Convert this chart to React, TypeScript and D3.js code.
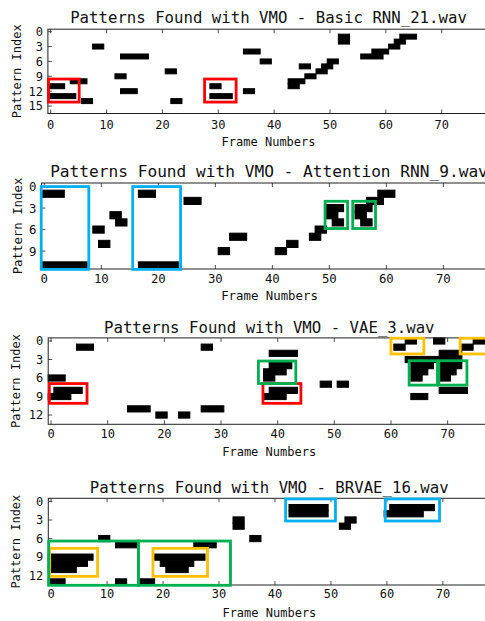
import React from 'react';
import * as d3 from 'd3';

// ---------- data ----------
const xTickValues = [0, 10, 20, 30, 40, 50, 60, 70];
const xAxisLabel = 'Frame Numbers';
const yAxisLabel = 'Pattern Index';

// bars: [pattern row, first frame, last frame]
// boxes: [colour kind, frame from, frame to, row from, row to]

const basicRnnTitle = 'Patterns Found with VMO - Basic RNN_21.wav';
const basicRnnRows = 17;
const basicRnnFrames = 79;
const basicRnnYTicks = [0, 3, 6, 9, 12, 15];
const basicRnnBars: [number, number, number][] = [
  [3, 8, 9], [5, 13, 17], [9, 12, 13], [8, 21, 22], [10, 4, 6], [11, 0, 2],
  [12, 13, 15], [13, 0, 4], [14, 6, 7], [14, 22, 23], [11, 29, 30], [13, 29, 32],
  [12, 35, 36], [4, 35, 37], [6, 38, 39], [1, 52, 53], [2, 52, 53],
  [1, 63, 65], [2, 62, 63], [3, 61, 62], [4, 58, 60], [5, 56, 59],
  [6, 50, 51], [7, 45, 46], [7, 49, 50], [8, 48, 49], [9, 46, 47], [10, 43, 45], [11, 43, 44],
];
const basicRnnBoxes: [string, number, number, number, number][] = [
  ['red', -0.4, 5.1, 9.55, 14.2],
  ['red', 27.55, 33.2, 9.55, 14.2],
];

const attentionTitle = 'Patterns Found with VMO - Attention RNN_9.wav';
const attentionRows = 12;
const attentionFrames = 80;
const attentionYTicks = [0, 3, 6, 9];
const attentionBars: [number, number, number][] = [
  [1, 0, 3], [11, 0, 7], [1, 17, 19], [11, 17, 23], [2, 25, 27], [4, 12, 13], [5, 13, 14],
  [6, 9, 10], [8, 10, 11], [9, 31, 32], [7, 33, 35], [9, 41, 42], [8, 43, 44], [7, 47, 48],
  [6, 48, 49], [3, 50, 52], [4, 50, 51], [5, 51, 52], [3, 55, 57], [4, 55, 56], [5, 56, 57],
  [2, 57, 59], [1, 59, 61],
];
const attentionBoxes: [string, number, number, number, number][] = [
  ['blue', -0.55, 7.8, 0, 11.55],
  ['blue', 15.5, 23.9, 0, 11.55],
  ['green', 49.25, 53.2, 2.05, 5.85],
  ['green', 54.1, 58.1, 2.05, 5.85],
];

const vaeTitle = 'Patterns Found with VMO - VAE_3.wav';
const vaeRows = 14;
const vaeFrames = 78;
const vaeYTicks = [0, 3, 6, 9, 12];
const vaeBars: [number, number, number][] = [
  [1, 5, 7], [1, 27, 28], [6, 0, 2], [8, 1, 5], [9, 0, 3], [11, 14, 17], [12, 19, 20],
  [12, 23, 24], [11, 27, 30], [2, 39, 43], [4, 39, 42], [5, 38, 41], [6, 38, 39],
  [8, 39, 43], [9, 38, 41], [7, 48, 49], [7, 51, 52], [1, 61, 62], [0, 63, 64], [0, 68, 69],
  [1, 73, 74], [0, 75, 77], [2, 69, 72], [3, 63, 72], [4, 64, 67], [5, 64, 66], [6, 64, 65],
  [4, 69, 72], [5, 69, 71], [6, 69, 70], [8, 69, 73], [9, 64, 66],
];
const vaeBoxes: [string, number, number, number, number][] = [
  ['red', -0.3, 6.35, 6.9, 10.1],
  ['red', 37.4, 44.1, 6.9, 10.1],
  ['green', 36.6, 43.2, 3.25, 6.9],
  ['orange', 60.0, 65.8, -0.45, 2.1],
  ['orange', 72.2, 80, -0.45, 2.1],
  ['green', 63.2, 68.2, 3.2, 7.15],
  ['green', 68.45, 73.4, 3.2, 7.15],
];

const brvaeTitle = 'Patterns Found with VMO - BRVAE_16.wav';
const brvaeRows = 14;
const brvaeFrames = 79;
const brvaeYTicks = [0, 3, 6, 9, 12];
const brvaeBars: [number, number, number][] = [
  [1, 43, 49], [2, 43, 49], [1, 61, 68], [2, 60, 66], [3, 33, 34], [4, 33, 34], [6, 36, 37],
  [4, 52, 53], [3, 53, 54], [6, 9, 10], [7, 12, 15], [7, 26, 29], [9, 0, 7], [10, 0, 6],
  [11, 0, 4], [9, 19, 27], [10, 20, 25], [11, 21, 24], [13, 0, 2], [13, 12, 13], [13, 16, 18],
];
const brvaeBoxes: [string, number, number, number, number][] = [
  ['blue', 41.9, 50.8, -0.4, 3.17],
  ['blue', 59.7, 69.4, -0.4, 3.17],
  ['orange', -0.25, 8.3, 7.58, 12.1],
  ['orange', 18.2, 27.95, 7.58, 12.1],
  ['green', -0.43, 15.6, 6.4, 13.55],
  ['green', 15.6, 32.05, 6.4, 13.55],
];

// ---------- styles / layout ----------
const boxColors: Record<string, string> = {
  red: '#ff0000',
  blue: '#00b0f0',
  green: '#00b050',
  orange: '#ffc000',
};

const FONT = '"DejaVu Sans Mono", "Liberation Mono", monospace';

const layouts = [
  { left: 47.9, frameW: 5.586, top: 29.2, bottom: 113.5, titleY: 22.5, titleX: 268.5, tickY: 129.3, labelY: 146, yLabelX: 16.7, fs: 1 },
  { left: 41.5, frameW: 5.7, top: 183, bottom: 269, titleY: 176.5, titleX: 269, tickY: 283.3, labelY: 299.5, yLabelX: 17.5, fs: 1.03 },
  { left: 48.2, frameW: 5.666, top: 337.9, bottom: 424.3, titleY: 332.6, titleX: 269.3, tickY: 437.7, labelY: 455.5, yLabelX: 15.8, fs: 1 },
  { left: 48.3, frameW: 5.597, top: 498.3, bottom: 585, titleY: 492.8, titleX: 269.2, tickY: 598.3, labelY: 616.5, yLabelX: 15.8, fs: 1 },
];

const panels = [
  { title: basicRnnTitle, rows: basicRnnRows, frames: basicRnnFrames, yTicks: basicRnnYTicks, bars: basicRnnBars, boxes: basicRnnBoxes },
  { title: attentionTitle, rows: attentionRows, frames: attentionFrames, yTicks: attentionYTicks, bars: attentionBars, boxes: attentionBoxes },
  { title: vaeTitle, rows: vaeRows, frames: vaeFrames, yTicks: vaeYTicks, bars: vaeBars, boxes: vaeBoxes },
  { title: brvaeTitle, rows: brvaeRows, frames: brvaeFrames, yTicks: brvaeYTicks, bars: brvaeBars, boxes: brvaeBoxes },
];

function Panel({ p, L }: { p: typeof panels[number]; L: typeof layouts[number] }) {
  const right = L.left + p.frames * L.frameW;
  const xs = d3.scaleLinear().domain([-0.5, p.frames - 0.5]).range([L.left, right]);
  const ys = d3.scaleLinear().domain([-0.5, p.rows - 0.5]).range([L.top, L.bottom]);
  const tickLen = 4;
  const tickFs = 12 * L.fs;
  const labelFs = 12 * L.fs;
  const titleFs = 15.7 * L.fs;
  const midY = (L.top + L.bottom) / 2;
  return (
    <g>
      <text x={L.titleX} y={L.titleY} textAnchor="middle" fontFamily={FONT} fontSize={titleFs} fill="#111">
        {p.title}
      </text>
      <rect x={L.left} y={L.top} width={right - L.left} height={L.bottom - L.top} fill="#fff" />
      {p.bars.map(([row, a, b], i) => (
        <rect
          key={'b' + i}
          x={xs(a - 0.5)}
          y={ys(row - 0.5)}
          width={xs(b + 0.5) - xs(a - 0.5)}
          height={ys(row + 0.5) - ys(row - 0.5)}
          fill="#000"
          stroke="#000"
          strokeWidth={1}
        />
      ))}
      <rect x={L.left} y={L.top} width={right - L.left} height={L.bottom - L.top} fill="none" stroke="#222" strokeWidth={1} />
      {xTickValues.map((t) => (
        <g key={'xt' + t}>
          <line x1={xs(t)} x2={xs(t)} y1={L.bottom} y2={L.bottom - tickLen} stroke="#222" strokeWidth={0.8} />
          <line x1={xs(t)} x2={xs(t)} y1={L.top} y2={L.top + tickLen} stroke="#222" strokeWidth={0.8} />
          <text x={xs(t)} y={L.tickY} textAnchor="middle" fontFamily={FONT} fontSize={tickFs} fill="#111">
            {t}
          </text>
        </g>
      ))}
      {p.yTicks.map((t) => (
        <g key={'yt' + t}>
          <line x1={L.left} x2={L.left + tickLen} y1={ys(t)} y2={ys(t)} stroke="#222" strokeWidth={0.8} />
          <line x1={right} x2={right - tickLen} y1={ys(t)} y2={ys(t)} stroke="#222" strokeWidth={0.8} />
          <text x={L.left - 5} y={ys(t)} dy="0.36em" textAnchor="end" fontFamily={FONT} fontSize={tickFs} fill="#111">
            {t}
          </text>
        </g>
      ))}
      {p.boxes.map(([kind, x0, x1, y0, y1], i) => (
        <rect
          key={'x' + i}
          x={xs(x0)}
          y={ys(y0)}
          width={xs(x1) - xs(x0)}
          height={ys(y1) - ys(y0)}
          fill="none"
          stroke={boxColors[kind]}
          strokeWidth={2.8}
        />
      ))}
      <text x={(L.left + right) / 2} y={L.labelY} textAnchor="middle" fontFamily={FONT} fontSize={labelFs} fill="#111">
        {xAxisLabel}
      </text>
      <text
        x={L.yLabelX}
        y={midY}
        textAnchor="middle"
        dy="0.36em"
        transform={`rotate(-90, ${L.yLabelX}, ${midY})`}
        fontFamily={FONT}
        fontSize={labelFs}
        fill="#111"
      >
        {yAxisLabel}
      </text>
    </g>
  );
}

export default function App() {
  return (
    <svg
      width={485}
      height={621}
      viewBox="0 0 485 621"
      style={{ position: 'absolute', left: 0, top: 0, display: 'block', background: '#fff', overflow: 'hidden' }}
    >
      <rect x={0} y={0} width={485} height={621} fill="#fff" />
      {panels.map((p, i) => (
        <Panel key={i} p={p} L={layouts[i]} />
      ))}
    </svg>
  );
}
